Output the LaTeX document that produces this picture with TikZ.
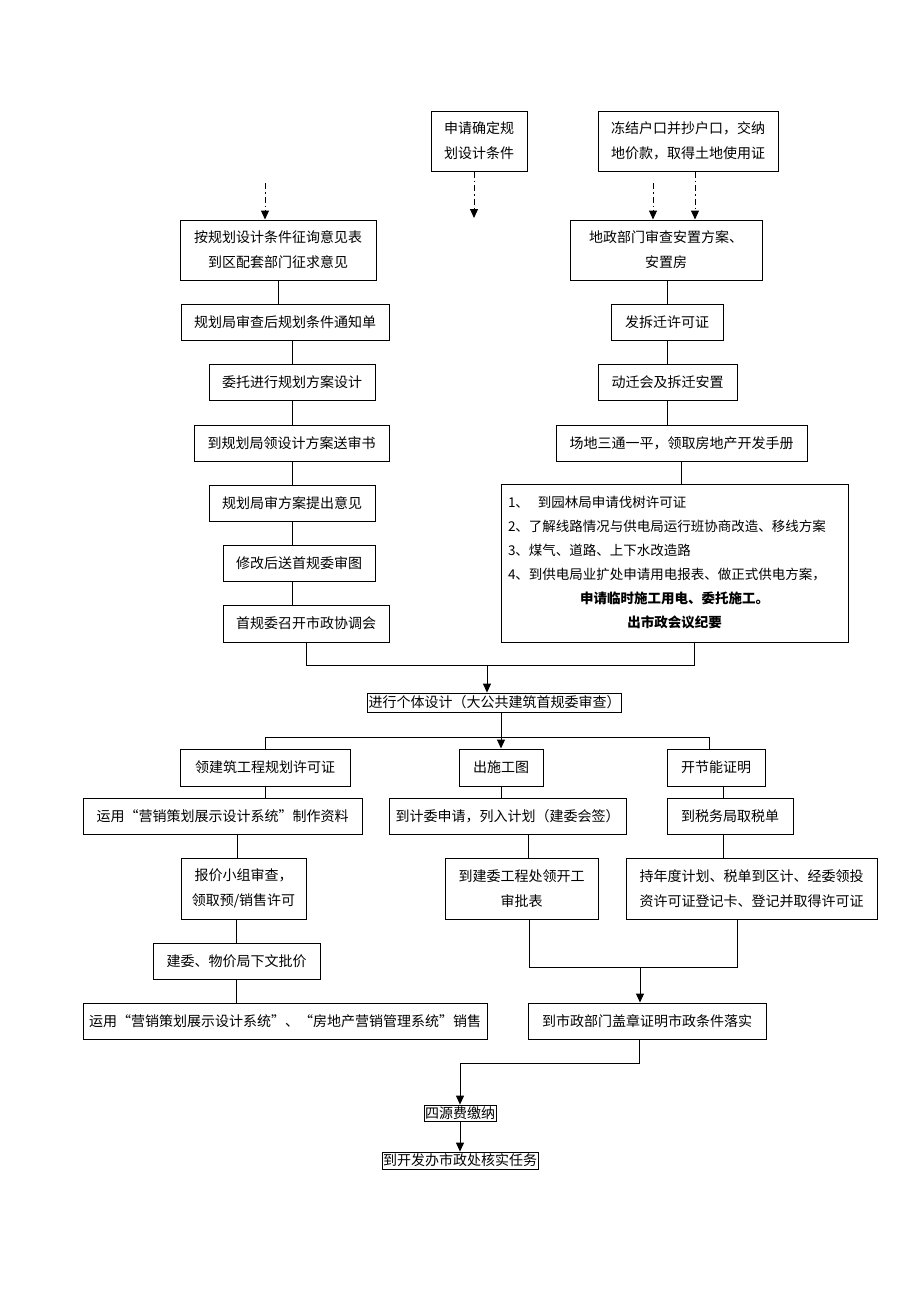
\documentclass[tikz,border=0pt]{standalone}
\usepackage{fontspec}
\setmainfont{Noto Sans CJK SC}
\usetikzlibrary{arrows.meta, calc}
\tikzset{
  flowBox/.style={rectangle, draw=black, line width=1pt, align=center,
                  inner sep=3pt, font=\fontsize{14pt}{25pt}\selectfont},
  tightBox/.style={rectangle, draw=black, line width=0.8pt, align=center,
                   inner sep=1pt, font=\fontsize{14pt}{16pt}\selectfont},
  link/.style={line width=1pt, black},
  arrowK/.style={-{Triangle[length=9pt,width=8pt]}, line width=1pt, black},
  arrowDD/.style={arrowK, dash pattern=on 6pt off 3pt on 1.5pt off 3pt},
}

\begin{document}
\begin{tikzpicture}[x=1pt, y=-1pt]
    \useasboundingbox (0,0) rectangle (920,1302);
    % top row
    \node[flowBox, minimum width=96, minimum height=60] (req) at (479,141)
      {申请确定规\\划设计条件};
    \node[flowBox, minimum width=180, minimum height=60] (freeze) at (688,141)
      {冻结户口并抄户口，交纳\\地价款，取得土地使用证};
    % left column
    \node[flowBox, minimum width=196, minimum height=60] (consult) at (278,250)
      {按规划设计条件征询意见表\\到区配套部门征求意见};
    \node[flowBox, minimum width=208, minimum height=36] (notice) at (285,322)
      {规划局审查后规划条件通知单};
    \node[flowBox, minimum width=166, minimum height=36] (entrust) at (292,382)
      {委托进行规划方案设计};
    \node[flowBox, minimum width=195, minimum height=36] (submit) at (291.5,443)
      {到规划局领设计方案送审书};
    \node[flowBox, minimum width=166, minimum height=36] (review) at (292,503)
      {规划局审方案提出意见};
    \node[flowBox, minimum width=152, minimum height=36] (revise) at (299,563)
      {修改后送首规委审图};
    \node[flowBox, minimum width=166, minimum height=37] (meeting) at (306,623.5)
      {首规委召开市政协调会};
    % right column
    \node[flowBox, minimum width=192, minimum height=60] (landRev) at (666,250)
      {地政部门审查安置方案、\\安置房};
    \node[flowBox, minimum width=112, minimum height=36] (permit) at (667,322)
      {发拆迁许可证};
    \node[flowBox, minimum width=139, minimum height=36] (relocate) at (667.5,382)
      {动迁会及拆迁安置};
    \node[flowBox, minimum width=251, minimum height=36] (site) at (681.5,443)
      {场地三通一平，领取房地产开发手册};
    \node[flowBox, minimum width=347, minimum height=158, text width=333,
          align=left, inner sep=6pt, font=\fontsize{13.5pt}{24pt}\selectfont]
      (utility) at (674.5,563)
      {1、\hspace{9pt}到园林局申请伐树许可证\\
       2、了解线路情况与供电局运行班协商改造、移线方案\\
       3、煤气、道路、上下水改造路\\
       4、到供电局业扩处申请用电报表、做正式供电方案，\\
       \makebox[\linewidth]{\bfseries 申请临时施工用电、委托施工。}\\
       \makebox[\linewidth]{\bfseries 出市政会议纪要}};
    % middle part
    \node[tightBox, minimum width=251, minimum height=19] (design) at (494.5,702.5)
      {进行个体设计（大公共建筑首规委审查）};
    \node[flowBox, minimum width=170, minimum height=37] (buildPermit) at (265,767.5)
      {领建筑工程规划许可证};
    \node[flowBox, minimum width=84, minimum height=37] (drawing) at (501,767.5)
      {出施工图};
    \node[flowBox, minimum width=98, minimum height=37] (energy) at (716,767.5)
      {开节能证明};
    \node[flowBox, minimum width=279, minimum height=36] (material) at (222.5,816)
      {运用“营销策划展示设计系统”制作资料};
    \node[flowBox, minimum width=237, minimum height=36] (planApp) at (507.5,816)
      {到计委申请，列入计划（建委会签）};
    \node[flowBox, minimum width=126, minimum height=36] (taxBill) at (730,816)
      {到税务局取税单};
    \node[flowBox, minimum width=125, minimum height=61] (pricing) at (243.5,888.5)
      {报价小组审查，\\领取预/销售许可};
    \node[flowBox, minimum width=153, minimum height=61] (startApp) at (521.5,888.5)
      {到建委工程处领开工\\审批表};
    \node[flowBox, minimum width=251, minimum height=61] (investReg) at (751.5,888.5)
      {持年度计划、税单到区计、经委领投\\资许可证登记卡、登记并取得许可证};
    \node[flowBox, minimum width=167, minimum height=36] (priceOk) at (236.5,961)
      {建委、物价局下文批价};
    \node[flowBox, minimum width=404, minimum height=36] (sales) at (285,1021)
      {运用“营销策划展示设计系统”、“房地产营销管理系统”销售};
    \node[flowBox, minimum width=238, minimum height=36] (stamp) at (647,1021)
      {到市政部门盖章证明市政条件落实};
    % bottom
    \node[tightBox, minimum width=72, minimum height=16] (fees) at (460,1113)
      {四源费缴纳};
    \node[tightBox, minimum width=154, minimum height=17] (verify) at (460,1160.5)
      {到开发办市政处核实任务};

    % dash-dot arrows at the top
    \coordinate (inL) at (265,183);
    \coordinate (inR) at (653,183);
    \coordinate (reqEnd) at (474,218);
    \draw[arrowDD] (inL) -- (inL |- consult.north);
    \draw[arrowDD] (reqEnd |- req.south) -- (reqEnd);
    \draw[arrowDD] (inR) -- (inR |- landRev.north);
    \draw[arrowDD] ([xshift=7pt]freeze.south) -- ([xshift=7pt]freeze.south |- landRev.north);

    % left chain
    \draw[link] (consult.south) -- (consult.south |- notice.north);
    \draw[link] (entrust.north |- notice.south) -- (entrust.north);
    \draw[link] (entrust.south) -- (entrust.south |- submit.north);
    \draw[link] (review.north |- submit.south) -- (review.north);
    \draw[link] (review.south) -- (review.south |- revise.north);
    \draw[link] (review.south |- revise.south) -- (review.south |- meeting.north);

    % right chain
    \draw[link] ([xshift=1pt]landRev.south) -- ([xshift=1pt]landRev.south |- permit.north);
    \draw[link] (permit.south) -- (permit.south |- relocate.north);
    \draw[link] (permit.south |- relocate.south) -- (permit.south |- site.north);
    \draw[link] (site.south) -- (site.south |- utility.north);

    % merge into design
    \coordinate (jn) at (487,665);
    \draw[link] (meeting.south) -- ++(0,23) -| ([xshift=20pt]utility.south);
    \draw[arrowK] (jn) -- (jn |- design.north);

    % branch out
    \draw[arrowK] (drawing.north |- design.south) -- (drawing.north);
    \draw[link] (buildPermit.north) -- ++(0,-11) -| ([xshift=-7pt]energy.north);

    % three columns
    \draw[link] (buildPermit.south) -- (buildPermit.south |- material.north);
    \draw[link] ([xshift=14.5pt]material.south) -- ([xshift=14.5pt]material.south |- pricing.north);
    \draw[link] (priceOk.north |- pricing.south) -- (priceOk.north);
    \draw[link] (priceOk.south) -- (priceOk.south |- sales.north);
    \draw[link] (drawing.south) -- (drawing.south |- planApp.north);
    \draw[link] ([xshift=21pt]planApp.south) -- ([xshift=21pt]planApp.south |- startApp.north);
    \draw[link] ([xshift=7pt]energy.south) -- ([xshift=7pt]energy.south |- taxBill.north);
    \draw[link] ([xshift=-7pt]taxBill.south) -- ([xshift=-7pt]taxBill.south |- investReg.north);

    % merge into stamp
    \coordinate (yz) at (640,967);
    \draw[link] ([xshift=7.5pt]startApp.south) -- ++(0,48) -| ([xshift=-14.5pt]investReg.south);
    \draw[arrowK] (yz) -- (yz |- stamp.north);

    % to the end
    \draw[arrowK] ([xshift=-8pt]stamp.south) -- ++(0,24) -| (fees.north);
    \draw[arrowK] (fees.south) -- (verify.north);
\end{tikzpicture}
\end{document}
